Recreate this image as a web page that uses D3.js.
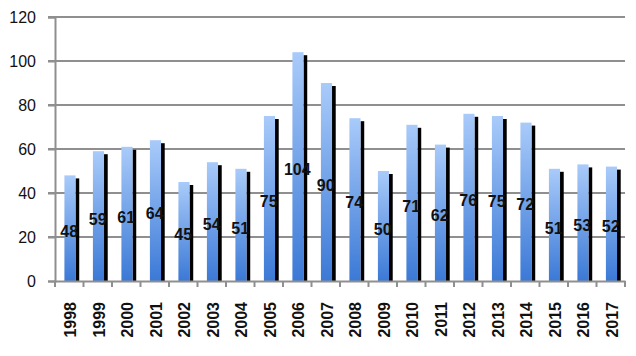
<!DOCTYPE html>
<html><head><meta charset="utf-8">
<script src="https://cdn.jsdelivr.net/npm/d3@7"></script>
<style>html,body{margin:0;padding:0;background:#fff;}svg{display:block;}</style>
</head><body>
<script>
const years = ["1998","1999","2000","2001","2002","2003","2004","2005","2006","2007","2008","2009","2010","2011","2012","2013","2014","2015","2016","2017"];
const values = [48,59,61,64,45,54,51,75,104,90,74,50,71,62,76,75,72,51,53,52];
const yTicks = [0,20,40,60,80,100,120];

const W = 636, H = 356;
const m = {left:55, right:11, top:17, bottom:75};
const svg = d3.select("body").append("svg").attr("width", W).attr("height", H);

const x = d3.scaleBand().domain(years).range([m.left, W - m.right]).padding(0);
const y = d3.scaleLinear().domain([0,120]).range([H - m.bottom, m.top]);
const step = x.step();

const defs = svg.append("defs");
const g = defs.append("linearGradient").attr("id","bg").attr("x1",0).attr("y1",0).attr("x2",0).attr("y2",1);
g.append("stop").attr("offset","0%").attr("stop-color","#a9cbfa");
g.append("stop").attr("offset","100%").attr("stop-color","#3b79d6");

// gridlines
svg.append("g").selectAll("line").data(yTicks.filter(d=>d>0)).join("line")
  .attr("x1", m.left - 7).attr("x2", W - m.right)
  .attr("y1", d=>y(d)).attr("y2", d=>y(d))
  .attr("stroke","#8f8f8f").attr("stroke-width",2);

// y axis
const ya = svg.append("g").attr("transform",`translate(${m.left},0)`)
  .call(d3.axisLeft(y).tickValues(yTicks).tickSize(7).tickPadding(12));
ya.select(".domain").attr("stroke","#8f8f8f").attr("stroke-width",2);
ya.selectAll(".tick line").attr("stroke","#8f8f8f").attr("stroke-width",2);
ya.selectAll("text").attr("font-family","'Liberation Sans', Arial, sans-serif").attr("font-size","16px").attr("fill","#111");

// bars - shadow
svg.append("g").selectAll("rect").data(values).join("rect")
  .attr("x",(d,i)=>x(years[i]) + step*0.72)
  .attr("width", step*0.13)
  .attr("y", d=>y(d)+3)
  .attr("height", d=>y(0)-y(d)-3)
  .attr("fill","#000");
// bars - blue
svg.append("g").selectAll("rect").data(values).join("rect")
  .attr("x",(d,i)=>x(years[i]) + step*0.33)
  .attr("width", step*0.39)
  .attr("y", d=>y(d))
  .attr("height", d=>y(0)-y(d))
  .attr("fill","url(#bg)");

// x axis
const xa = svg.append("g").attr("transform",`translate(0,${y(0)})`)
  .call(d3.axisBottom(x).tickSize(0).tickFormat(""));
xa.select(".domain").attr("stroke","#8f8f8f").attr("stroke-width",2);
svg.append("g").selectAll("line").data(d3.range(years.length+1)).join("line")
  .attr("x1", i=>m.left + i*step).attr("x2", i=>m.left + i*step)
  .attr("y1", y(0)).attr("y2", y(0)+6)
  .attr("stroke","#8f8f8f").attr("stroke-width",2);

// x labels
svg.append("g").selectAll("text").data(years).join("text")
  .attr("transform", d=>`translate(${x(d)+step/2+7},${y(0)+21}) rotate(-90)`)
  .attr("text-anchor","end")
  .attr("font-family","'Liberation Sans', Arial, sans-serif")
  .attr("font-size","16px").attr("font-weight","bold").attr("fill","#111")
  .text(d=>d);

// value labels
svg.append("g").selectAll("text").data(values).join("text")
  .attr("x",(d,i)=>x(years[i]) + step/2)
  .attr("y", d=>(y(d)+y(0))/2 + 3)
  .attr("dy","0.35em")
  .attr("text-anchor","middle")
  .attr("font-family","'Liberation Sans', Arial, sans-serif")
  .attr("font-size","16px").attr("font-weight","bold").attr("fill","#111")
  .text(d=>d);
</script>
</body></html>
